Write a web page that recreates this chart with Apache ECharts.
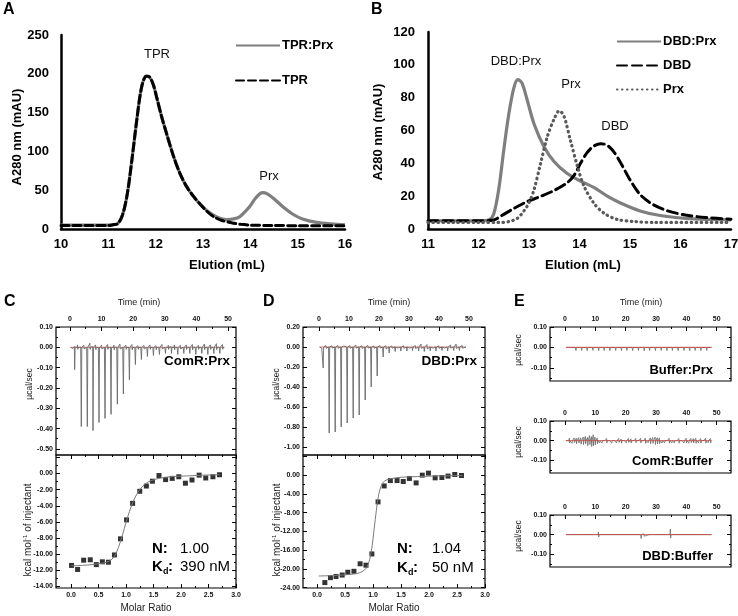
<!DOCTYPE html>
<html>
<head>
<meta charset="utf-8">
<title>SEC and ITC</title>
<script src="https://cdn.jsdelivr.net/npm/echarts@6/dist/echarts.min.js"></script>
<style>
html, body { margin: 0; padding: 0; background: #fff; }
#main { width: 738px; height: 616px; }
</style>
</head>
<body>
<div id="main"></div>
<script>
var FF = '"Liberation Sans", Arial, Helvetica, sans-serif';

// A - SEC, TPR vs TPR:Prx  [elution mL, A280 mAU]
var secA_tprPrx = [[10,5],[10.6,5],[11,5],[11.1,5.5],[11.2,7],[11.3,18],[11.4,45],[11.5,90],[11.6,140],[11.7,182],[11.8,197],[11.87,196],[11.95,186],[12.02,170],[12.12,146],[12.23,123],[12.37,95],[12.51,72],[12.65,55],[12.8,42],[12.94,32],[13.08,24],[13.22,18],[13.36,14],[13.5,12],[13.65,13],[13.78,16],[13.9,23],[14.0,30],[14.1,39],[14.2,45.5],[14.27,47],[14.35,45.5],[14.5,39],[14.7,28],[14.9,19],[15.1,13],[15.4,8.5],[15.7,6.5],[16,5.5]];
var secA_tpr = [[10,4.5],[10.6,4.5],[11,4.5],[11.1,5.5],[11.2,7],[11.3,18],[11.4,45],[11.5,90],[11.6,140],[11.7,182],[11.8,197],[11.87,196],[11.95,186],[12.02,170],[12.12,146],[12.23,123],[12.37,95],[12.51,72],[12.65,55],[12.8,42],[12.94,32],[13.08,23],[13.22,16],[13.4,11],[13.6,8],[13.8,6],[14.0,5],[14.5,4.5],[15,4.3],[16,4.3]];

// B - SEC, DBD / Prx / DBD:Prx
var secB_dbdPrx = [[11,5],[11.5,5],[12,5],[12.2,5.5],[12.3,9],[12.4,24],[12.5,48],[12.6,70],[12.7,86],[12.78,91],[12.86,89],[12.96,79],[13.1,64],[13.3,50],[13.5,41],[13.75,34],[14.0,29.5],[14.3,25],[14.55,20],[14.8,16],[15.2,11],[15.6,8.2],[16.1,6.5],[16.6,5.8],[17,5.5]];
var secB_dbd = [[11,5],[11.5,5],[12,5],[12.3,5.5],[12.45,8],[12.7,12.5],[12.95,16.5],[13.2,19.5],[13.5,23.5],[13.75,28],[13.9,33],[14.02,40],[14.15,46.5],[14.28,50.5],[14.42,52],[14.55,51],[14.68,47],[14.82,40],[15.0,30],[15.2,21],[15.45,15],[15.75,11],[16.1,8.5],[16.5,7],[17,6]];
var secB_prx = [[11,4],[11.5,4],[12,4],[12.4,4],[12.6,4.5],[12.77,6.5],[12.9,11],[13.0,16],[13.1,24],[13.23,40],[13.36,56],[13.49,66.5],[13.6,72],[13.69,69],[13.82,54],[13.96,38],[14.09,26],[14.29,15.5],[14.49,9.5],[14.75,5.8],[15.1,4.5],[15.5,4],[17,4]];

// C/D - raw ITC: injection time (min) and peak depth (ucal/sec)
var itcC_time = [1.3,3.4,5.3,7.1,9.0,10.9,12.8,14.8,16.7,18.6,20.5,22.4,24.3,26.2,28.1,30.0,31.9,33.9,35.8,37.7,39.6,41.5,43.4,45.3,47.2];
var itcC_dq = [-0.11,-0.39,-0.39,-0.41,-0.37,-0.35,-0.33,-0.28,-0.23,-0.16,-0.085,-0.06,-0.045,-0.04,-0.035,-0.03,-0.03,-0.035,-0.03,-0.03,-0.035,-0.03,-0.035,-0.03,-0.03];
var itcC_noise = [[0.7,0.008,-0.006],[2.3,0.012,-0.01],[4.3,0.01,-0.008],[6.2,0.02,-0.01],[8.0,0.012,-0.012],[9.9,0.01,-0.008],[11.8,0.014,-0.01],[13.8,0.01,-0.012],[15.7,0.016,-0.008],[17.6,0.01,-0.01],[19.5,0.014,-0.012],[21.4,0.008,-0.01],[23.3,0.01,-0.008],[25.2,0.012,-0.01],[27.1,0.008,-0.012],[29.0,0.014,-0.008],[31.0,0.01,-0.01],[32.9,0.012,-0.012],[34.8,0.01,-0.008],[36.7,0.012,-0.01],[38.6,0.014,-0.012],[40.5,0.01,-0.01],[42.4,0.016,-0.012],[44.3,0.012,-0.01],[46.2,0.018,-0.012],[48.1,0.014,-0.01]];
var itcD_time = [1.2,3.2,5.2,7.2,9.2,11.2,13.2,15.2,17.2,19.2,21.2,23.2,25.2,27.1,29.1,31.0,33.0,34.9,36.9,38.8,40.8,42.7,44.7,46.6];
var itcD_dq = [-0.21,-0.86,-0.85,-0.80,-0.76,-0.71,-0.68,-0.53,-0.40,-0.29,-0.10,-0.06,-0.045,-0.04,-0.04,-0.035,-0.04,-0.045,-0.04,-0.04,-0.035,-0.04,-0.035,-0.035];
var itcD_noise = [[0.7,0.01,-0.01],[2.2,0.015,-0.012],[4.2,0.012,-0.01],[6.2,0.016,-0.012],[8.2,0.01,-0.01],[10.2,0.014,-0.012],[12.2,0.02,-0.01],[14.2,0.012,-0.014],[16.2,0.016,-0.01],[18.2,0.01,-0.012],[20.2,0.014,-0.01],[22.2,0.012,-0.02],[24.2,0.01,-0.012],[26.1,0.016,-0.01],[28.1,0.012,-0.014],[30.0,0.018,-0.012],[32.0,0.014,-0.016],[33.9,0.03,-0.014],[35.9,0.024,-0.02],[37.8,0.016,-0.012],[39.8,0.012,-0.014],[41.7,0.014,-0.01],[43.7,0.02,-0.012],[45.6,0.03,-0.014],[47.6,0.016,-0.012]];
var baseC = [[0.2,0],[48.8,0]];
var baseD = [[0.2,0],[49.0,0]];
var baseE = [[0.3,0],[48.3,0]];

// E - controls: [time, up, down]
var itcE1_spikes = [[1.3,0.002,-0.005],[3.4,0.003,-0.016],[5.3,0.002,-0.015],[7.1,0.003,-0.016],[9.0,0.002,-0.015],[10.9,0.003,-0.016],[12.7,0.002,-0.015],[14.6,0.003,-0.016],[16.5,0.002,-0.015],[18.4,0.003,-0.016],[20.2,0.002,-0.015],[22.1,0.003,-0.016],[24.0,0.002,-0.015],[25.9,0.003,-0.017],[27.7,0.002,-0.015],[29.6,0.003,-0.016],[31.5,0.002,-0.015],[33.4,0.003,-0.016],[35.2,0.002,-0.015],[37.1,0.003,-0.016],[39.0,0.002,-0.015],[40.9,0.003,-0.016],[42.7,0.002,-0.015],[44.6,0.003,-0.016],[46.5,0.002,-0.015]];
var itcE2_spikes = [[0.5,0.008,-0.01],[1.3,0.012,-0.012],[2.1,0.01,-0.014],[2.9,0.014,-0.01],[3.6,0.012,-0.016],[4.4,0.016,-0.012],[5.1,0.014,-0.018],[5.9,0.018,-0.02],[6.6,0.022,-0.016],[7.3,0.016,-0.026],[8.0,0.026,-0.02],[8.6,0.02,-0.03],[9.2,0.03,-0.026],[9.8,0.018,-0.022],[10.5,0.014,-0.016],[11.2,0.01,-0.012],[12.0,0.009,-0.013],[12.8,0.008,-0.01],[13.6,0.011,-0.012],[14.4,0.008,-0.009],[15.2,0.01,-0.013],[16.0,0.008,-0.01],[16.8,0.009,-0.012],[17.6,0.011,-0.009],[18.4,0.008,-0.013],[19.2,0.01,-0.01],[20.0,0.008,-0.011],[20.8,0.011,-0.009],[21.6,0.009,-0.012],[22.4,0.008,-0.01],[23.2,0.011,-0.011],[24.0,0.009,-0.009],[24.8,0.012,-0.012],[25.6,0.01,-0.01],[26.4,0.012,-0.014],[27.2,0.01,-0.011],[28.0,0.014,-0.016],[28.8,0.016,-0.014],[29.6,0.018,-0.02],[30.3,0.015,-0.017],[31.0,0.013,-0.015],[31.8,0.01,-0.012],[32.6,0.009,-0.011],[33.4,0.01,-0.01],[34.2,0.012,-0.013],[35.0,0.01,-0.011],[35.8,0.009,-0.012],[36.6,0.01,-0.01],[37.4,0.011,-0.013],[38.2,0.009,-0.01],[39.0,0.01,-0.012],[39.8,0.012,-0.011],[40.6,0.01,-0.013],[41.4,0.011,-0.01],[42.2,0.01,-0.012],[43.0,0.012,-0.014],[43.8,0.01,-0.011],[44.6,0.011,-0.012],[45.4,0.01,-0.01],[46.2,0.012,-0.013],[47.0,0.01,-0.011],[47.8,0.011,-0.012]];
var itcE3_spikes = [[1.3,0.003,-0.004],[3.4,0.004,-0.008],[5.3,0.003,-0.007],[7.1,0.004,-0.008],[9.0,0.003,-0.008],[10.9,0.014,-0.012],[12.7,0.004,-0.008],[14.6,0.003,-0.007],[16.5,0.004,-0.008],[18.4,0.003,-0.007],[20.2,0.004,-0.008],[22.1,0.003,-0.007],[24.0,0.004,-0.008],[24.9,0.008,-0.02],[25.9,0.004,-0.008],[27.7,0.003,-0.007],[29.6,0.004,-0.008],[31.5,0.003,-0.007],[33.4,0.004,-0.008],[34.6,0.028,-0.018],[35.2,0.004,-0.008],[37.1,0.003,-0.007],[39.0,0.004,-0.008],[40.9,0.003,-0.007],[42.7,0.004,-0.008],[44.6,0.003,-0.007],[46.5,0.004,-0.008]];

// C/D - integrated heats (kcal/mol of injectant) and fits
var ratioC = [0.01,0.12,0.23,0.35,0.46,0.57,0.68,0.79,0.90,1.01,1.12,1.25,1.37,1.48,1.60,1.72,1.84,1.96,2.08,2.20,2.33,2.45,2.58,2.70];
var heatC = [-11.4,-11.9,-10.75,-10.7,-11.3,-10.95,-11.0,-10.1,-8.1,-5.75,-3.7,-2.2,-1.55,-0.95,-0.25,-0.75,-0.6,-0.4,-1.2,-0.8,-0.2,-0.55,-0.4,-0.15];
var fitC_ratio = [0.01,0.3,0.5,0.65,0.75,0.82,0.9,0.97,1.03,1.1,1.17,1.25,1.35,1.45,1.6,1.8,2.1,2.4,2.7];
var fitC_heat = [-11.45,-11.35,-11.2,-11.0,-10.6,-9.9,-8.4,-6.8,-5.4,-4.0,-2.9,-2.0,-1.3,-0.9,-0.6,-0.4,-0.3,-0.2,-0.15];
var ratioD = [0.14,0.24,0.34,0.45,0.55,0.66,0.77,0.875,0.98,1.09,1.20,1.31,1.43,1.54,1.65,1.77,1.88,1.99,2.11,2.23,2.34,2.46,2.58];
var heatD = [-22.9,-21.85,-21.6,-21.3,-20.7,-20.5,-18.9,-19.2,-16.8,-5.7,-2.3,-1.15,-1.15,-1.35,-0.7,-1.65,0.0,0.43,-0.57,-0.5,-0.2,0.14,-0.07];
var fitD_ratio = [0.03,0.3,0.5,0.7,0.8,0.88,0.94,0.98,1.02,1.06,1.1,1.15,1.2,1.3,1.5,1.8,2.2,2.6];
var fitD_heat = [-21.5,-21.4,-21.25,-21.0,-20.6,-19.8,-18.0,-15.5,-11.5,-7.5,-4.2,-2.2,-1.3,-0.8,-0.45,-0.3,-0.15,-0.1];

// tick values
var timeMajor = [0,10,20,30,40,50];
var timeMinor = [5,15,25,35,45];
var ratioMajor = [0,0.5,1,1.5,2,2.5,3];
var ratioMinor = [0.25,0.75,1.25,1.75,2.25,2.75];
var rawC_major = [0.1,0,-0.1,-0.2,-0.3,-0.4,-0.5];
var rawC_minor = [0.05,-0.05,-0.15,-0.25,-0.35,-0.45];
var rawD_major = [0.2,0,-0.2,-0.4,-0.6,-0.8,-1.0];
var rawD_minor = [0.1,-0.1,-0.3,-0.5,-0.7,-0.9];
var rawE_major = [0.1,0,-0.1];
var rawE_minor = [0.05,-0.05,-0.15];
var heatC_labels = [0,-2,-4,-6,-8,-10,-12,-14];
var heatC_major = [2,0,-2,-4,-6,-8,-10,-12,-14];
var heatC_minor = [1,-1,-3,-5,-7,-9,-11,-13];
var heatD_labels = [0,-4,-8,-12,-16,-20,-24];
var heatD_major = [4,0,-4,-8,-12,-16,-20,-24];
var heatD_minor = [2,-2,-6,-10,-14,-18,-22];

//注射峰 + 噪声, [t, up, down]
function eventTrace(t0, t1, events) {
    events = events.slice().sort(function (a, b) { return a[0] - b[0]; });
    var pts = [[t0, 0]];
    for (var i = 0; i < events.length; i++) {
        var s = events[i];
        pts.push([s[0], 0], [s[0] + 0.1, s[1]], [s[0] + 0.2, s[2]], [s[0] + 0.35, 0]);
    }
    pts.push([t1, 0]);
    return pts;
}
function injections(times, depths) {
    var out = [];
    for (var i = 0; i < times.length; i++) out.push([times[i], 0.004, depths[i]]);
    return out;
}
function zip(a, b) {
    var out = [];
    for (var i = 0; i < a.length; i++) out.push([a[i], b[i]]);
    return out;
}

var xAxes = [], yAxes = [], grids = [], series = [];

function gridBox(l, t, w, h, border) {
    grids.push({left: l, top: t, width: w, height: h, show: border, borderColor: '#000', borderWidth: 1.2,
        backgroundColor: 'transparent', containLabel: false, outerBoundsMode: 'none'});
    return grids.length - 1;
}
function itcAxis(list, g, pos, min, max, ticks, len, labels, digits, margin) {
    list.push({
        type: 'value', gridIndex: g, position: pos, min: min, max: max,
        axisLine: {show: false, onZero: false},
        splitLine: {show: false},
        axisTick: {show: true, inside: true, length: len, customValues: ticks, lineStyle: {color: '#000', width: 1}},
        axisLabel: {show: !!labels, customValues: labels || [], margin: margin || 4, fontSize: 7, fontWeight: 'bold',
            color: '#111', fontFamily: FF, formatter: function (v) { return (+v).toFixed(digits); }},
        silent: true
    });
    return list.length - 1;
}
//ITC一个小图
function itcPanel(g, o) {
    var xs = o.xPos, xo = o.xPos === 'top' ? 'bottom' : 'top';
    var xi = itcAxis(xAxes, g, xs, o.xr[0], o.xr[1], o.xMaj, 4, o.xMaj, o.xDig, 4);
    itcAxis(xAxes, g, xs, o.xr[0], o.xr[1], o.xMin, 2);
    if (o.mirrorX) {
        itcAxis(xAxes, g, xo, o.xr[0], o.xr[1], o.xMaj, 4);
        itcAxis(xAxes, g, xo, o.xr[0], o.xr[1], o.xMin, 2);
    }
    var yi = itcAxis(yAxes, g, 'left', o.yr[0], o.yr[1], o.yMaj, 4, o.yLab, 2, 3);
    itcAxis(yAxes, g, 'left', o.yr[0], o.yr[1], o.yMin, 2);
    itcAxis(yAxes, g, 'right', o.yr[0], o.yr[1], o.yMaj, 4);
    itcAxis(yAxes, g, 'right', o.yr[0], o.yr[1], o.yMin, 2);
    return {x: xi, y: yi};
}

// ---- A / B grids ----
function secAxis(list, g, min, max, interval, margin) {
    list.push({
        type: 'value', gridIndex: g, min: min, max: max, interval: interval,
        axisLine: {show: true, onZero: false, lineStyle: {color: '#000', width: 2.5}},
        axisTick: {show: false}, splitLine: {show: false},
        axisLabel: {margin: margin, fontSize: 13, fontWeight: 'bold', color: '#000', fontFamily: FF}
    });
    return list.length - 1;
}
var gA = gridBox(61, 35, 284, 194, false);
var gB = gridBox(428, 32, 303, 197, false);
var axA = {x: secAxis(xAxes, gA, 10, 16, 1, 9), y: secAxis(yAxes, gA, 0, 250, 50, 12)};
var axB = {x: secAxis(xAxes, gB, 11, 17, 1, 9), y: secAxis(yAxes, gB, 0, 120, 20, 13)};

var GRAY = '#7f7f7f';
function secLine(name, ax, data, color, type, width, z) {
    series.push({
        name: name, type: 'line', xAxisIndex: ax.x, yAxisIndex: ax.y, data: data,
        symbol: 'none', smooth: 0.3, z: z,
        lineStyle: {color: color, width: width, type: type, cap: type === 'solid' ? 'butt' : 'round'},
        itemStyle: {color: color}
    });
}
secLine('TPR:Prx', axA, secA_tprPrx, GRAY, 'solid', 3.2, 2);
secLine('TPR', axA, secA_tpr, '#000', [8, 4], 3, 3);
secLine('DBD:Prx', axB, secB_dbdPrx, GRAY, 'solid', 3.2, 2);
secLine('DBD', axB, secB_dbd, '#000', [10, 5], 3, 3);
secLine('Prx', axB, secB_prx, '#595959', [0.5, 4.5], 3.2, 4);

// ---- ITC grids ----
var gC1 = gridBox(56, 327, 180, 128, true);
var gC2 = gridBox(56, 455, 180, 133, true);
var gD1 = gridBox(303, 327, 182, 128, true);
var gD2 = gridBox(303, 455, 182, 133, true);
var gE1 = gridBox(550, 327, 181, 54, true);
var gE2 = gridBox(550, 421, 181, 52, true);
var gE3 = gridBox(550, 515, 181, 52, true);

var axC1 = itcPanel(gC1, {xPos: 'top', xr: [-4.4, 52.5], xMaj: timeMajor, xMin: timeMinor, xDig: 0,
    yr: [-0.53, 0.1], yMaj: rawC_major, yMin: rawC_minor, yLab: rawC_major});
var axC2 = itcPanel(gC2, {xPos: 'bottom', mirrorX: true, xr: [-0.273, 3.0], xMaj: ratioMajor, xMin: ratioMinor, xDig: 1,
    yr: [-14.2, 2.3], yMaj: heatC_major, yMin: heatC_minor, yLab: heatC_labels});
var axD1 = itcPanel(gD1, {xPos: 'top', xr: [-5.33, 55.33], xMaj: timeMajor, xMin: timeMinor, xDig: 0,
    yr: [-1.08, 0.2], yMaj: rawD_major, yMin: rawD_minor, yLab: rawD_major});
var axD2 = itcPanel(gD2, {xPos: 'bottom', mirrorX: true, xr: [-0.25, 3.0], xMaj: ratioMajor, xMin: ratioMinor, xDig: 1,
    yr: [-24.06, 4.3], yMaj: heatD_major, yMin: heatD_minor, yLab: heatD_labels});
var eOpt = {xPos: 'top', xr: [-4.95, 54.7], xMaj: timeMajor, xMin: timeMinor, xDig: 0,
    yr: [-0.165, 0.1], yMaj: rawE_major, yMin: rawE_minor, yLab: rawE_major};
var axE1 = itcPanel(gE1, eOpt);
var axE2 = itcPanel(gE2, eOpt);
var axE3 = itcPanel(gE3, eOpt);

function rawLine(name, ax, data, color, width) {
    series.push({name: name, type: 'line', xAxisIndex: ax.x, yAxisIndex: ax.y, data: data, symbol: 'none',
        lineStyle: {color: color, width: width}, silent: true});
}
var RED = '#c8443a', TRACE = '#6a6a6a';
rawLine('C base', axC1, baseC, RED, 0.7);
rawLine('C raw', axC1, eventTrace(0.2, 48.8, injections(itcC_time, itcC_dq).concat(itcC_noise)), TRACE, 0.9);
rawLine('D base', axD1, baseD, RED, 0.7);
rawLine('D raw', axD1, eventTrace(0.2, 49.0, injections(itcD_time, itcD_dq).concat(itcD_noise)), TRACE, 0.9);
rawLine('E1 raw', axE1, eventTrace(0.3, 48.3, itcE1_spikes), TRACE, 0.8);
rawLine('E1 base', axE1, baseE, RED, 0.8);
rawLine('E2 raw', axE2, eventTrace(0.3, 48.3, itcE2_spikes), TRACE, 0.8);
rawLine('E2 base', axE2, baseE, RED, 0.8);
rawLine('E3 raw', axE3, eventTrace(0.3, 48.3, itcE3_spikes), TRACE, 0.8);
rawLine('E3 base', axE3, baseE, RED, 0.8);

function isoPlot(tag, ax, pts, fit) {
    series.push({name: tag + ' fit', type: 'line', xAxisIndex: ax.x, yAxisIndex: ax.y, data: fit, symbol: 'none',
        smooth: 0.35, lineStyle: {color: '#7a7a7a', width: 1}, silent: true});
    series.push({name: tag + ' pts', type: 'scatter', xAxisIndex: ax.x, yAxisIndex: ax.y, data: pts,
        symbol: 'rect', symbolSize: 5, itemStyle: {color: '#000'}, silent: true});
}
isoPlot('C', axC2, zip(ratioC, heatC), zip(fitC_ratio, fitC_heat));
isoPlot('D', axD2, zip(ratioD, heatD), zip(fitD_ratio, fitD_heat));

// ---- texts ----
function txt(x, y, s, size, weight, align, rot, color) {
    return {type: 'text', x: x, y: y, rotation: rot || 0, silent: true,
        style: {text: s, fontSize: size, fontWeight: weight || 'normal', fontFamily: FF,
            fill: color || '#000', align: align || 'center', verticalAlign: 'middle'}};
}
var R = Math.PI / 2;
var graphics = [
    txt(3, 10, 'A', 16, 'bold', 'left'),
    txt(371, 10, 'B', 16, 'bold', 'left'),
    txt(4, 302, 'C', 16, 'bold', 'left'),
    txt(263, 302, 'D', 16, 'bold', 'left'),
    txt(514, 302, 'E', 16, 'bold', 'left'),
    txt(17, 137, 'A280 nm (mAU)', 13, 'bold', 'center', R),
    txt(227, 265, 'Elution (mL)', 13, 'bold'),
    txt(378, 132, 'A280 nm (mAU)', 13, 'bold', 'center', R),
    txt(583, 265, 'Elution (mL)', 13, 'bold'),
    txt(157, 54, 'TPR', 13, 'normal', 'center', 0, '#111'),
    txt(269, 176, 'Prx', 13, 'normal', 'center', 0, '#111'),
    txt(516, 61, 'DBD:Prx', 13, 'normal', 'center', 0, '#111'),
    txt(571, 84, 'Prx', 13, 'normal', 'center', 0, '#111'),
    txt(615, 126, 'DBD', 13, 'normal', 'center', 0, '#111'),
    txt(139, 303, 'Time (min)', 9, 'normal', 'center', 0, '#222'),
    txt(389, 303, 'Time (min)', 9, 'normal', 'center', 0, '#222'),
    txt(641, 303, 'Time (min)', 9, 'normal', 'center', 0, '#222'),
    txt(30, 384, 'µcal/sec', 8.5, 'normal', 'center', R, '#222'),
    txt(277, 384, 'µcal/sec', 8.5, 'normal', 'center', R, '#222'),
    txt(519, 350, 'µcal/sec', 8.5, 'normal', 'center', R, '#222'),
    txt(519, 442, 'µcal/sec', 8.5, 'normal', 'center', R, '#222'),
    txt(519, 536, 'µcal/sec', 8.5, 'normal', 'center', R, '#222'),
    txt(146, 608, 'Molar Ratio', 10, 'normal', 'center', 0, '#222'),
    txt(394, 608, 'Molar Ratio', 10, 'normal', 'center', 0, '#222'),
    txt(230, 361, 'ComR:Prx', 13.5, 'bold', 'right'),
    txt(477, 361, 'DBD:Prx', 13.5, 'bold', 'right'),
    txt(713, 370, 'Buffer:Prx', 13, 'bold', 'right'),
    txt(713, 461, 'ComR:Buffer', 13, 'bold', 'right'),
    txt(713, 556, 'DBD:Buffer', 13, 'bold', 'right'),
    // N / Kd
    txt(152, 549, 'N:', 15, 'bold', 'left'),
    txt(180, 549, '1.00', 15, 'normal', 'left'),
    txt(152, 567, 'K', 15, 'bold', 'left'),
    txt(163, 572, 'd', 9, 'bold', 'left'),
    txt(168, 567, ':', 15, 'bold', 'left'),
    txt(180, 567, '390 nM', 15, 'normal', 'left'),
    txt(397, 549, 'N:', 15, 'bold', 'left'),
    txt(432, 549, '1.04', 15, 'normal', 'left'),
    txt(397, 568, 'K', 15, 'bold', 'left'),
    txt(408, 573, 'd', 9, 'bold', 'left'),
    txt(413, 568, ':', 15, 'bold', 'left'),
    txt(432, 568, '50 nM', 15, 'normal', 'left')
];
function kcalLabel(x, y) {
    return {type: 'text', x: x, y: y, rotation: R, silent: true,
        style: {text: '{a|kcal mol}{s|-1}{a| of injectant}', align: 'center', verticalAlign: 'middle',
            rich: {a: {fontSize: 10, fontFamily: FF, fill: '#222', lineHeight: 12},
                   s: {fontSize: 6, fontFamily: FF, fill: '#222', verticalAlign: 'top', lineHeight: 12}}}};
}
graphics.push(kcalLabel(28, 530), kcalLabel(277, 530));

var legendBase = {
    orient: 'vertical', padding: 0, itemWidth: 44, itemHeight: 14, selectedMode: false,
    itemStyle: {opacity: 0},
    textStyle: {fontSize: 13, fontWeight: 'bold', color: '#000', fontFamily: FF, padding: [0, 0, 0, -3]}
};
var chart = echarts.init(document.getElementById('main'), null, {renderer: 'canvas'});
chart.setOption({
    animation: false,
    backgroundColor: '#fff',
    textStyle: {fontFamily: FF},
    legend: [
        echarts.util.extend({data: ['TPR:Prx', 'TPR'], left: 235, top: 39, itemGap: 22}, legendBase),
        echarts.util.extend({data: ['DBD:Prx', 'DBD', 'Prx'], left: 616, top: 35, itemGap: 11}, legendBase)
    ],
    grid: grids,
    xAxis: xAxes,
    yAxis: yAxes,
    series: series,
    graphic: graphics
});
</script>
</body>
</html>
